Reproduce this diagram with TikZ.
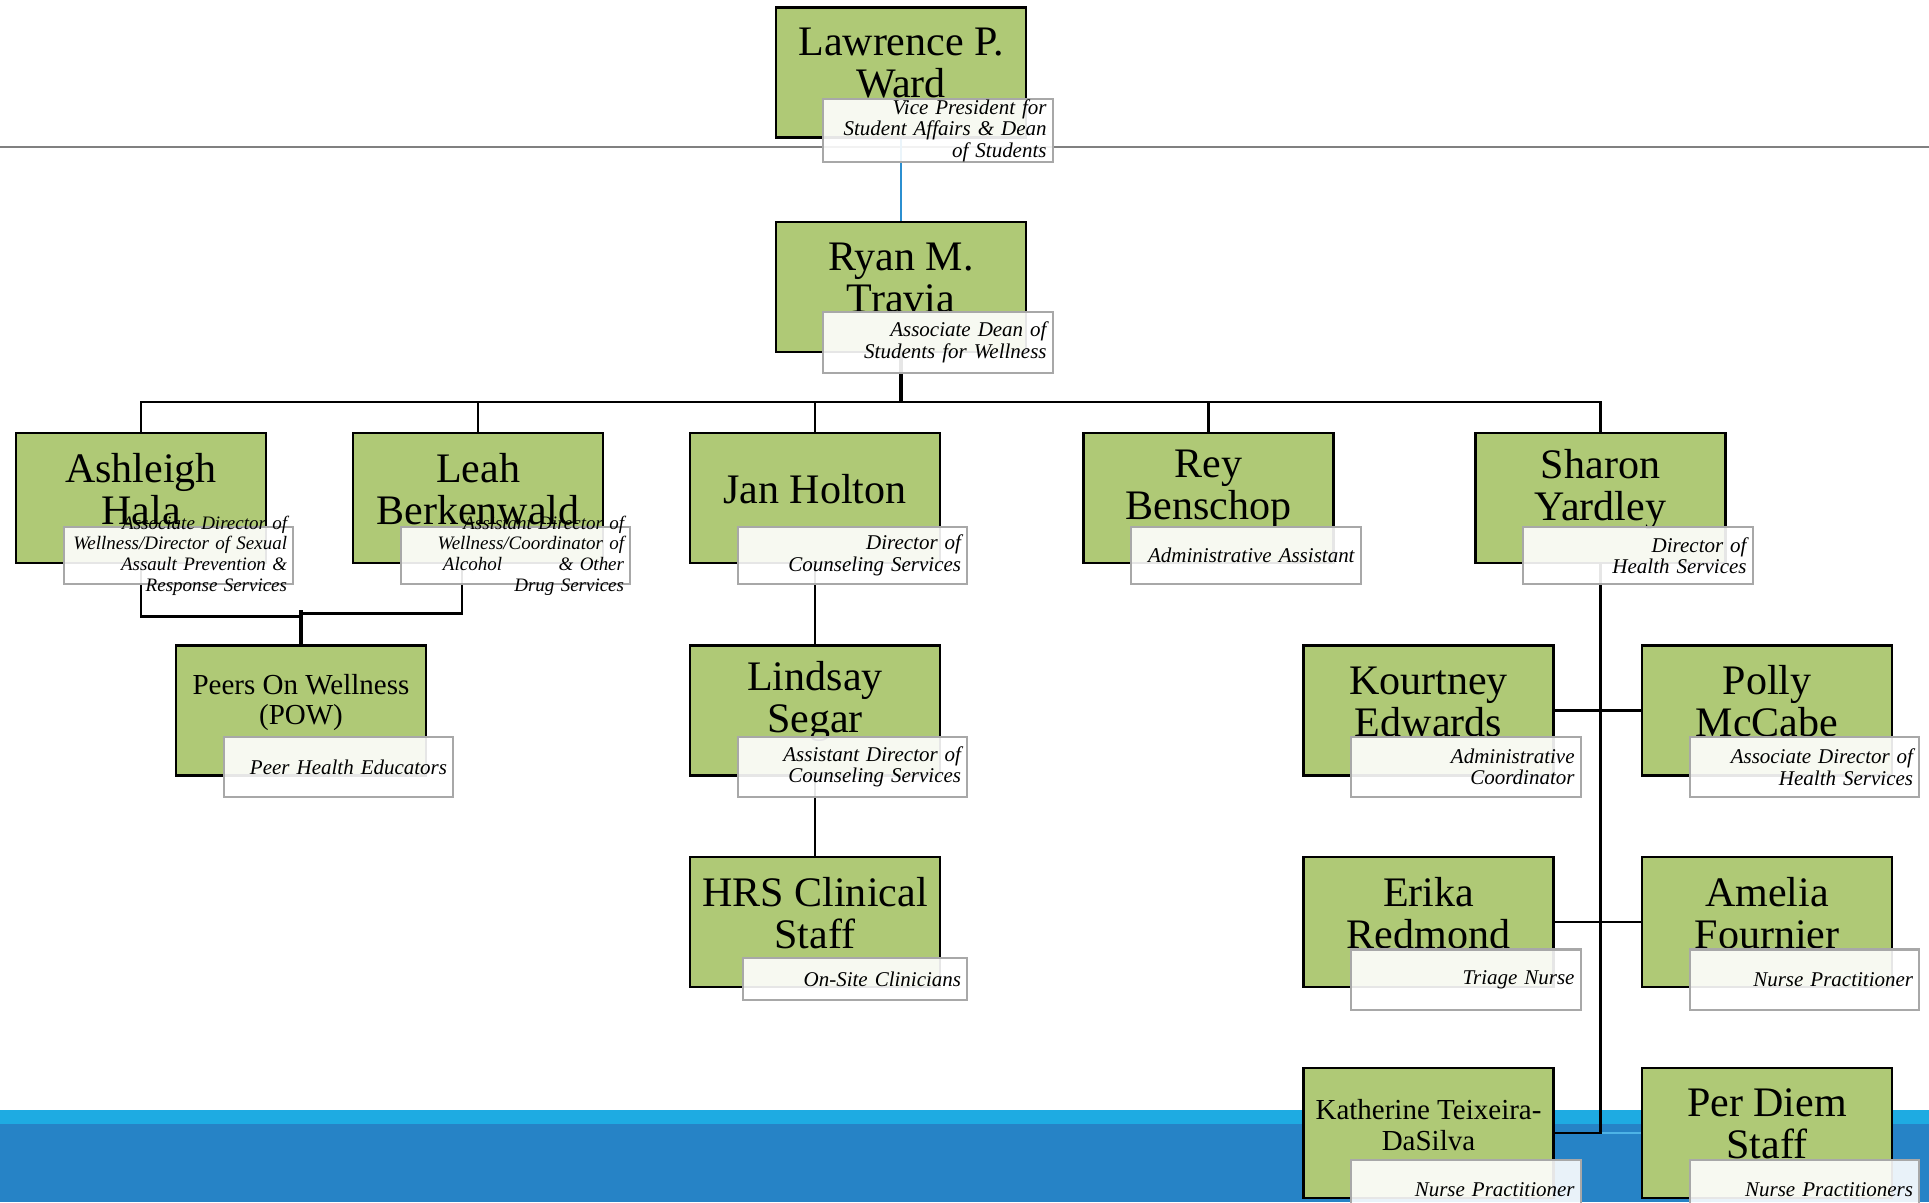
\documentclass[tikz,border=0pt]{standalone}
\usepackage{fontspec}
\setmainfont{Liberation Serif}
\usetikzlibrary{positioning,backgrounds}

\definecolor{boxgreen}{HTML}{AFC976}
\definecolor{rulegray}{HTML}{808080}
\definecolor{titlegray}{HTML}{A8A8A8}
\definecolor{bandcyan}{HTML}{1EABE2}
\definecolor{bandblue}{HTML}{2683C6}
\definecolor{linkblue}{HTML}{2B8FD0}
\definecolor{faintblue}{HTML}{4DB3E6}

\begin{document}
\begin{tikzpicture}[x=0.01cm, y=-0.01cm,
    namebox/.style={draw=black, line width=0.8pt, fill=boxgreen, minimum width=2.5cm, minimum height=1.3cm, inner sep=0pt},
    nametxt/.style={align=center, inner sep=0pt, yshift=0.09cm, font=\fontsize{11.95}{11.95}\selectfont},
    smalltxt/.style={align=center, inner sep=0pt, yshift=0.08cm, font=\fontsize{8.25}{8.8}\selectfont},
    titlebox/.style={draw=titlegray, line width=0.57pt, fill=white, fill opacity=0.9, text opacity=1, minimum width=2.29cm, minimum height=0.57cm, text width=2.17cm, inner xsep=0.06cm, inner ysep=0pt, align=right, font=\itshape\fontsize{5.97}{6.12}\selectfont},
    titletxt/.style={align=right, text width=2.3cm, inner sep=0pt, xshift=-0.065cm, font=\itshape\fontsize{5.4}{5.85}\selectfont},
    conn/.style={draw=black, line width=0.7pt},
    connthick/.style={draw=black, line width=1.1pt},
    bluelink/.style={draw=linkblue, line width=0.6pt},
    faintlink/.style={draw=faintblue, line width=0.5pt}
]
\useasboundingbox (0,0) rectangle (1929,1202);

% top of the chart
\node[namebox, label={[nametxt]center:{Lawrence P.\\Ward}}] (lward) at (901,72.5) {};
\node[titlebox, minimum height=0.63cm] (lward-t) at (938,130.5) {Vice President for\\Student Affairs \& Dean\\of Students};
\node[namebox, label={[nametxt]center:{Ryan M.\\Travia}}] (rtravia) at (901,287) {};
\node[titlebox, minimum height=0.61cm] (rtravia-t) at (938,342.5) {Associate Dean of\\Students for Wellness};
\coordinate (bus) at (901,402);

% second row
\node[namebox, label={[nametxt]center:{Ashleigh\\Hala}}] (ahala) at (141,498) {};
\node[titlebox, label={[titletxt]center:{Associate Director of\\Wellness/Director of Sexual\\Assault Prevention \&\\Response Services}}] (ahala-t) at (178.5,555.5) {};
\node[namebox, label={[nametxt]center:{Leah\\Berkenwald}}] (lberk) at (478,498) {};
\node[titlebox, label={[titletxt]center:{Assistant Director of\\Wellness/Coordinator of\\\makebox[1.81cm]{Alcohol\hfill\& Other}\\Drug Services}}] (lberk-t) at (515.5,555.5) {};
\node[namebox, label={[nametxt]center:{Jan Holton}}] (jholton) at (815,498) {};
\node[titlebox] (jholton-t) at (852.5,555.5) {Director of\\Counseling Services};
\node[namebox, label={[nametxt]center:{Rey\\Benschop}}] (rbensch) at (1208.5,498) {};
\node[titlebox] (rbensch-t) at (1246,555.5) {Administrative Assistant};
\node[namebox, label={[nametxt]center:{Sharon\\Yardley}}] (syard) at (1600.5,498) {};
\node[titlebox] (syard-t) at (1638,555.5) {Director of\\Health Services};

% third row
\node[namebox, label={[smalltxt]center:{Peers On Wellness\\(POW)}}] (peers) at (301,710.5) {};
\node[titlebox, minimum height=0.6cm] (peers-t) at (338.5,767) {Peer Health Educators};
\node[namebox, label={[nametxt]center:{Lindsay\\Segar}}] (lsegar) at (815,710.5) {};
\node[titlebox, minimum height=0.6cm] (lsegar-t) at (852.5,767) {Assistant Director of\\Counseling Services};
\node[namebox, label={[nametxt]center:{Kourtney\\Edwards}}] (kedw) at (1428.5,710.5) {};
\node[titlebox, minimum height=0.6cm] (kedw-t) at (1466,767) {Administrative\\Coordinator};
\node[namebox, label={[nametxt]center:{Polly\\McCabe}}] (pmcc) at (1767,710.5) {};
\node[titlebox, minimum height=0.6cm] (pmcc-t) at (1804.5,767) {Associate Director of\\Health Services};

% fourth row
\node[namebox, label={[nametxt]center:{HRS Clinical\\Staff}}] (hrs) at (815,922) {};
\node[titlebox, minimum width=2.24cm, text width=2.12cm, minimum height=0.42cm] (hrs-t) at (855,979) {On-Site Clinicians};
\node[namebox, label={[nametxt]center:{Erika\\Redmond}}] (emred) at (1428.5,922) {};
\node[titlebox, minimum height=0.6cm] (emred-t) at (1466,979.5) {Triage Nurse};
\node[namebox, label={[nametxt]center:{Amelia\\Fournier}}] (afour) at (1767,922) {};
\node[titlebox, minimum height=0.6cm] (afour-t) at (1804.5,979.5) {Nurse Practitioner};

% bottom row
\node[namebox, label={[smalltxt]center:{Katherine Teixeira-\\DaSilva}}] (kteix) at (1428.5,1133) {};
\node[titlebox, minimum height=0.6cm] (kteix-t) at (1466,1190) {Nurse Practitioner};
\node[namebox, label={[nametxt]center:{Per Diem\\Staff}}] (pdiem) at (1767,1133) {};
\node[titlebox, minimum height=0.6cm] (pdiem-t) at (1804.5,1190) {Nurse Practitioners};

\begin{scope}[on background layer]
\fill[white] (0,0) rectangle (1929,1202);
\fill[bandcyan] (0,1110) rectangle (1929,1124);
\fill[bandblue] (0,1124) rectangle (1929,1202);
\draw[rulegray, line width=0.6pt] (0,147) -- (1929,147);

\draw[bluelink] (lward.south) -- (rtravia.north);
\draw[connthick] (rtravia.south) -- (bus);
\foreach \kid in {ahala,lberk,jholton,rbensch,syard}
  \draw[conn] (bus) -| (\kid.north);

\draw[conn] (ahala.south) -- ++(0,52) -| (peers.north);
\draw[conn] ([xshift=-0.16cm]lberk.south) -- ++(0,49) -| (peers.north);
\draw[connthick] (peers.north) -- ++(0,-34);

\draw[conn] (jholton.south) -- (lsegar.north);
\draw[conn] (lsegar.south) -- (hrs.north);

\draw[faintlink] (syard.south) |- (pdiem.west);
\draw[connthick] (syard.south) -- (kteix.east -| syard.south);
\foreach \kid/\side in {kedw/east,pmcc/west,emred/east,afour/west,kteix/east}
  \draw[conn] (syard.south) |- (\kid.\side);
\end{scope}
\end{tikzpicture}
\end{document}
